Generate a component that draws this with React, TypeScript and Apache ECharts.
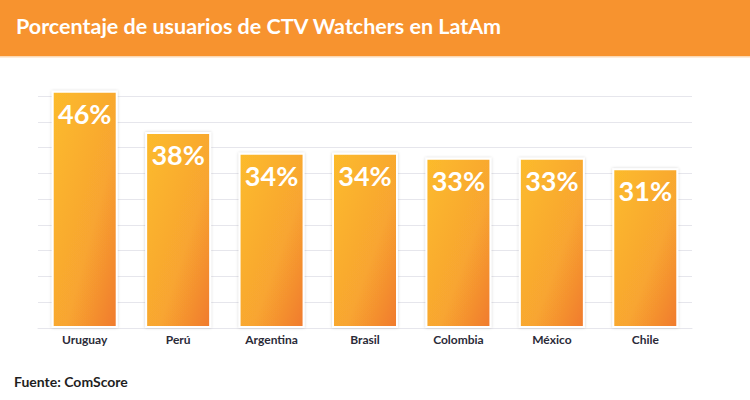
import React, { useEffect, useRef } from "react";
import * as echarts from "echarts";

const categories = ["Uruguay", "Perú", "Argentina", "Brasil", "Colombia", "México", "Chile"];
const values = [46, 38, 34, 34, 33, 33, 31];
const titleText = "Porcentaje de usuarios de CTV Watchers en LatAm";
const sourceText = "Fuente: ComScore";

export default function App() {
  const ref = useRef<HTMLDivElement>(null);
  useEffect(() => {
    if (!ref.current) return;
    const chart = echarts.init(ref.current, null, { renderer: "svg" });
    chart.setOption({
      animation: false,
      backgroundColor: "#ffffff",
      graphic: [
        { type: "rect", left: 0, top: 0, shape: { width: 750, height: 56 }, style: { fill: "#F7932F" }, z: -1 },
        { type: "rect", left: 0, top: 56, shape: { width: 750, height: 1.5 }, style: { fill: "#FBD9B4" }, z: -1 },
        {
          type: "text",
          left: 16,
          top: 15,
          style: {
            text: titleText,
            fill: "#ffffff",
            font: "bold 21.5px Lato, 'Open Sans', sans-serif",
          },
        },
        {
          type: "text",
          left: 14,
          top: 374,
          style: {
            text: sourceText,
            fill: "#1f1f1f",
            font: "bold 14px Lato, 'Open Sans', sans-serif",
          },
        },
      ],
      grid: { left: 38, right: 58, top: 96, bottom: 72, containLabel: false },
      xAxis: {
        type: "category",
        data: categories,
        axisLine: { show: true, lineStyle: { color: "#e6e6ec" } },
        axisTick: { show: false },
        axisLabel: {
          color: "#2b2b38",
          fontFamily: "Lato, 'Open Sans', sans-serif",
          fontWeight: "bold",
          fontSize: 12,
          margin: 5,
        },
      },
      yAxis: {
        type: "value",
        min: 0,
        max: 45,
        interval: 5,
        axisLabel: { show: false },
        axisLine: { show: false },
        axisTick: { show: false },
        splitLine: { show: true, lineStyle: { color: "#e6e6ec", width: 1 } },
      },
      series: [
        {
          type: "bar",
          data: values,
          clip: false,
          barWidth: 66,
          itemStyle: {
            color: new echarts.graphic.LinearGradient(0, 0, 1, 1, [
              { offset: 0, color: "#FCBB2C" },
              { offset: 0.6, color: "#F8A530" },
              { offset: 1, color: "#F07A2E" },
            ]),
            borderColor: "#ffffff",
            borderWidth: 2,
            shadowColor: "rgba(0,0,0,0.18)",
            shadowBlur: 3,
          },
          label: {
            show: true,
            position: "insideTop",
            distance: 9,
            formatter: "{c}%",
            color: "#ffffff",
            fontFamily: "Lato, 'Open Sans', sans-serif",
            fontWeight: "bold",
            fontSize: 27,
          },
        },
      ],
    });
    return () => chart.dispose();
  }, []);
  return <div ref={ref} style={{ width: 750, height: 400, position: "fixed", left: 0, top: 0 }} />;
}
